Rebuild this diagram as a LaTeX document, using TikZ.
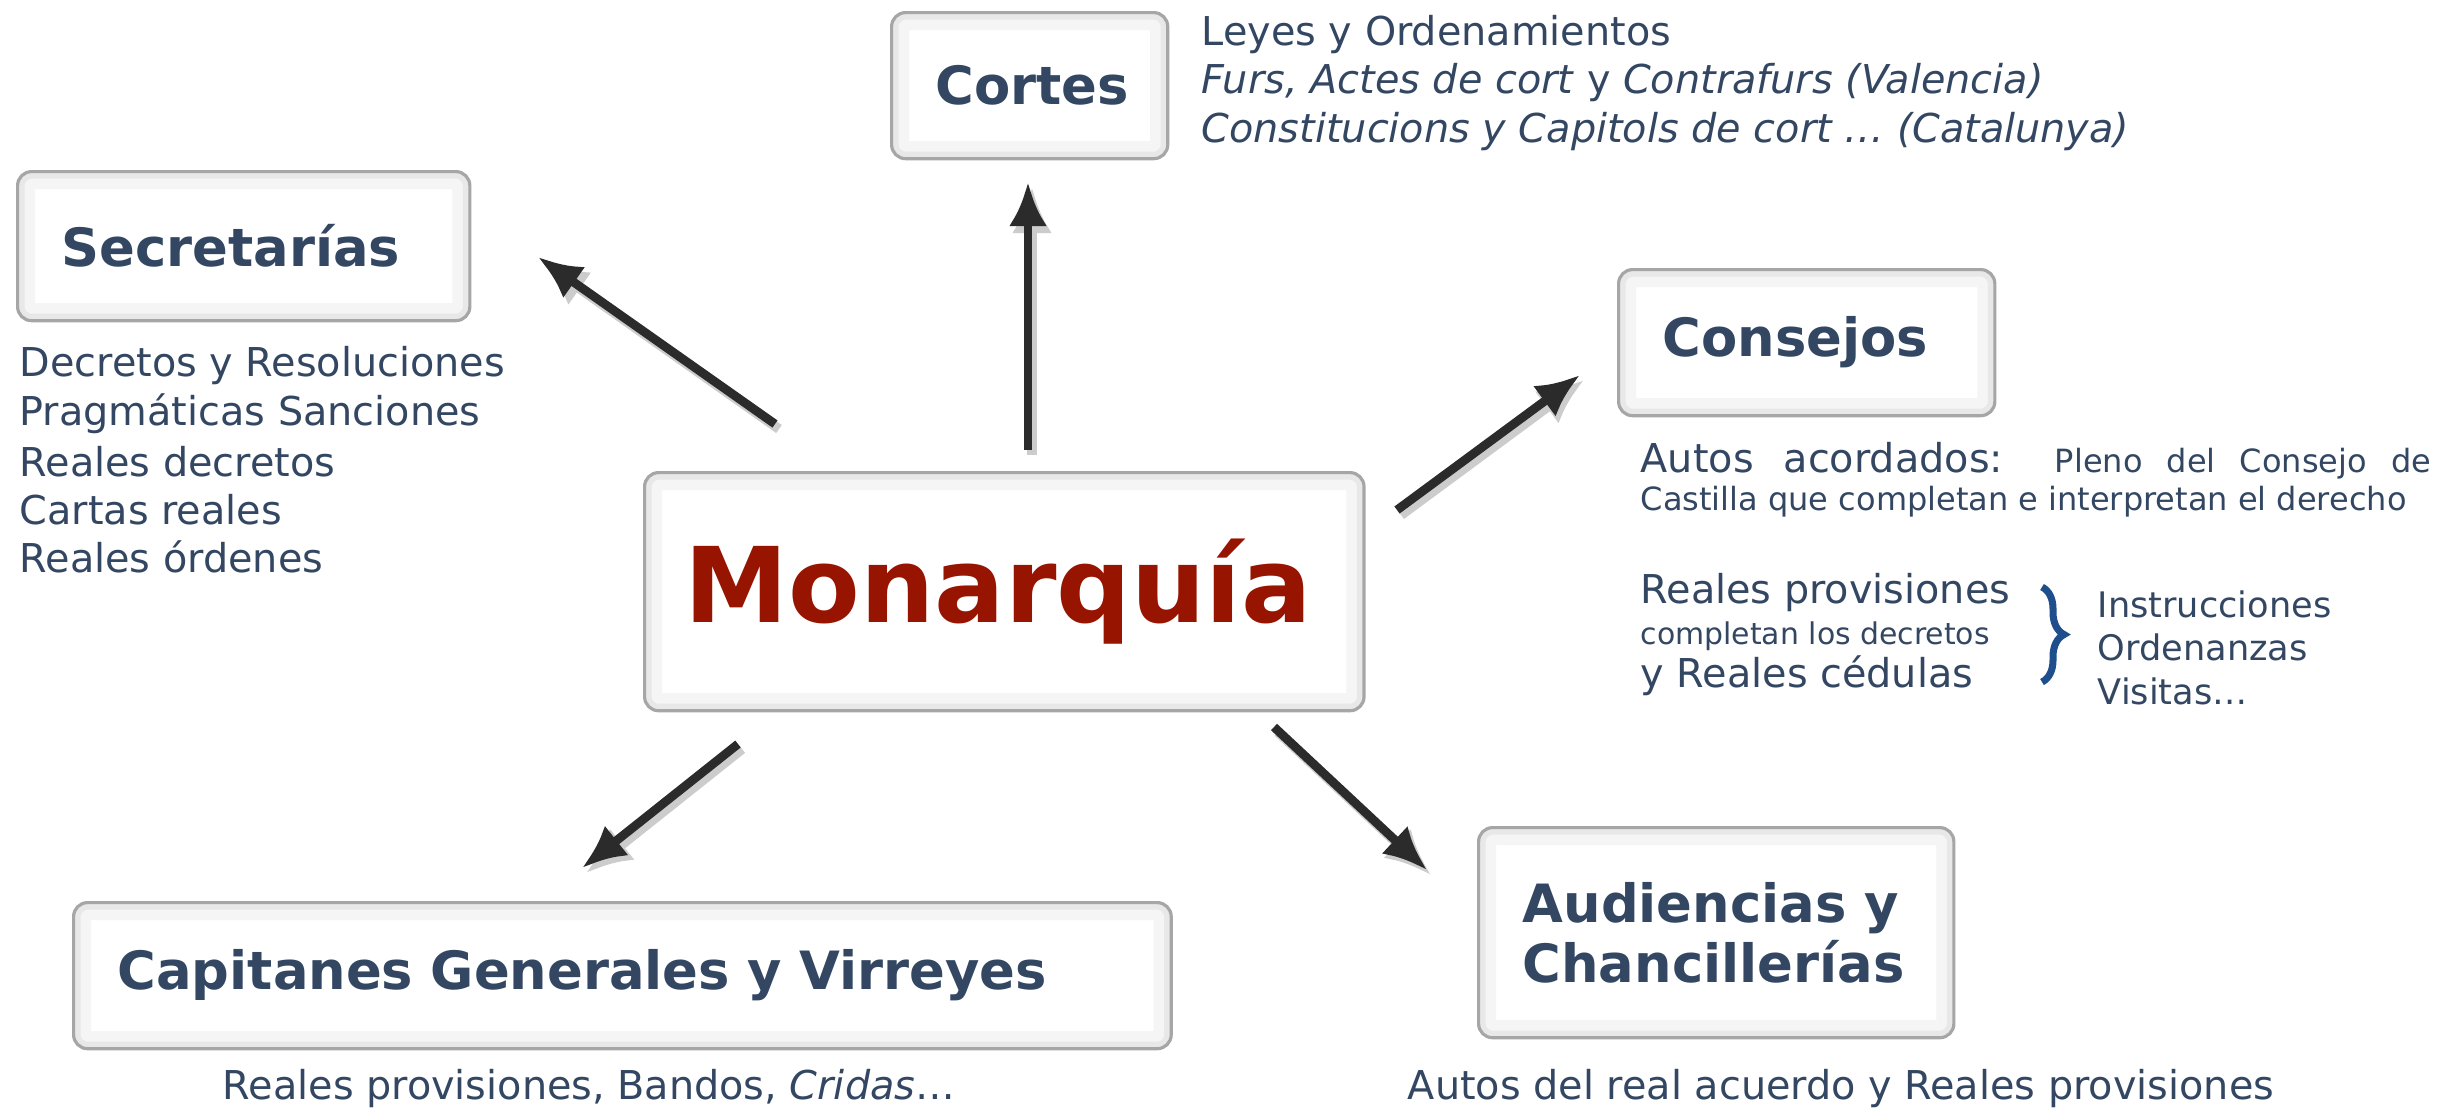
\documentclass[tikz,border=0pt]{standalone}
\usepackage{fontspec}
\setmainfont{DejaVu Sans}
\usepackage{xcolor}
\usetikzlibrary{arrows.meta}
\usetikzlibrary{decorations.pathreplacing}

\definecolor{azul}{RGB}{51,71,99}
\definecolor{rojo}{RGB}{150,20,0}
\definecolor{llave}{RGB}{31,78,140}
\definecolor{flecha}{RGB}{43,43,43}

\tikzset{
caja/.style={draw=black!35, line width=0.9pt, fill=white, rounded corners=0.14cm,
  anchor=north west, inner xsep=0.44cm, align=left, text=azul,
  font=\fontsize{15}{17}\bfseries\selectfont,
  path picture={
    \draw[black!4, line width=10pt, rounded corners=0.14cm] (path picture bounding box.south west) rectangle (path picture bounding box.north east);
    \draw[black!9, line width=4pt, rounded corners=0.14cm] (path picture bounding box.south west) rectangle (path picture bounding box.north east);
  }},
texto/.style={anchor=west, inner sep=0pt, text=azul, font=\fontsize{11.3}{13.6}\selectfont},
chico/.style={texto, font=\fontsize{9.1}{11}\selectfont},
flechita/.style={line width=2.5pt, flecha, -{Latex[length=0.44cm,width=0.38cm]}},
sombra/.style={line width=2.8pt, black!20, -{Latex[length=0.46cm,width=0.40cm]}}
}

\begin{document}
\begin{tikzpicture}[x=0.01cm, y=-0.01cm]
\fill[white] (0,0) rectangle (2461,1111);
\useasboundingbox (0,0) rectangle (2461,1111);

% cajas
\node[caja, text width=1.88cm, minimum height=1.46cm] (cortes) at (890,11) {Cortes};
\node[caja, text width=3.64cm, minimum height=1.49cm] (secre) at (16,170) {Secretarías};
\node[caja, text width=2.88cm, minimum height=1.46cm] (consejos) at (1617,268) {Consejos};
\node[caja, text width=6.39cm, minimum height=2.38cm, inner xsep=0.40cm, text=rojo,
  font=\fontsize{29.7}{36}\bfseries\selectfont] (mon) at (643,471) {Monarquía};
\node[caja, text width=10.09cm, minimum height=1.46cm] (capi) at (72,901) {Capitanes Generales y Virreyes};
\node[caja, text width=3.87cm, minimum height=2.10cm] (audi) at (1477,826) {Audiencias y\\Chancillerías};

% Cortes
\node[texto] (leyes1) at (1201,35) {Leyes y Ordenamientos};
\node[texto] (leyes2) at (1201,83) {\textit{Furs, Actes de cort} y \textit{Contrafurs (Valencia)}};
\node[texto] (leyes3) at (1201,132) {\textit{Constitucions y Capitols de cort … (Catalunya)}};

% Secretarias
\foreach \t [count=\i] in {Decretos y Resoluciones, Pragmáticas Sanciones, Reales decretos, Cartas reales, Reales órdenes}{
\node[texto] (sec\i) at (19,{366+47.8*(\i-1)}) {\t};
}

% Consejos
\node[texto] (autos1) at (1640,461) {\makebox[7.9cm][s]{Autos acordados: {\fontsize{9.1}{11}\selectfont Pleno del Consejo de}}};
\node[chico] (autos2) at (1640,502) {Castilla que completan e interpretan el derecho};
\node[texto] (prov1) at (1640,593) {Reales provisiones};
\node[texto, font=\fontsize{8.5}{10}\selectfont] (prov2) at (1640,636) {completan los decretos};
\node[texto] (prov3) at (1640,676) {y Reales cédulas};
\draw[llave, line width=2pt, decorate, decoration={brace, amplitude=0.22cm}] (2042,587) -- (2042,682);
\foreach \t/\yy [count=\i] in {Instrucciones/604, Ordenanzas/647, Visitas…/691}{
\node[texto, font=\fontsize{10}{12}\selectfont] (inst\i) at (2097,\yy) {\t};
}

% abajo
\node[texto, anchor=center] (capitxt) at (589,1089) {Reales provisiones, Bandos, \textit{Cridas}…};
\node[texto, anchor=center] (auditxt) at (1841,1089) {Autos del real acuerdo y Reales provisiones};

% flechas
\coordinate (monN) at (1028,450);  \coordinate (corS) at (1028,182);
\coordinate (monNO) at (775,424);  \coordinate (secSE) at (538,257);
\coordinate (monNE) at (1397,510); \coordinate (conSO) at (1580,375);
\coordinate (monSO) at (738,744);  \coordinate (capNE) at (582,868);
\coordinate (monSE) at (1274,727); \coordinate (audNO) at (1427,870);
\foreach \a/\b in {monN/corS, monNO/secSE, monNE/conSO, monSO/capNE, monSE/audNO}{
\draw[sombra] ([shift={(4,5)}]\a) -- ([shift={(4,5)}]\b);
\draw[flechita] (\a) -- (\b);
}
\end{tikzpicture}
\end{document}
